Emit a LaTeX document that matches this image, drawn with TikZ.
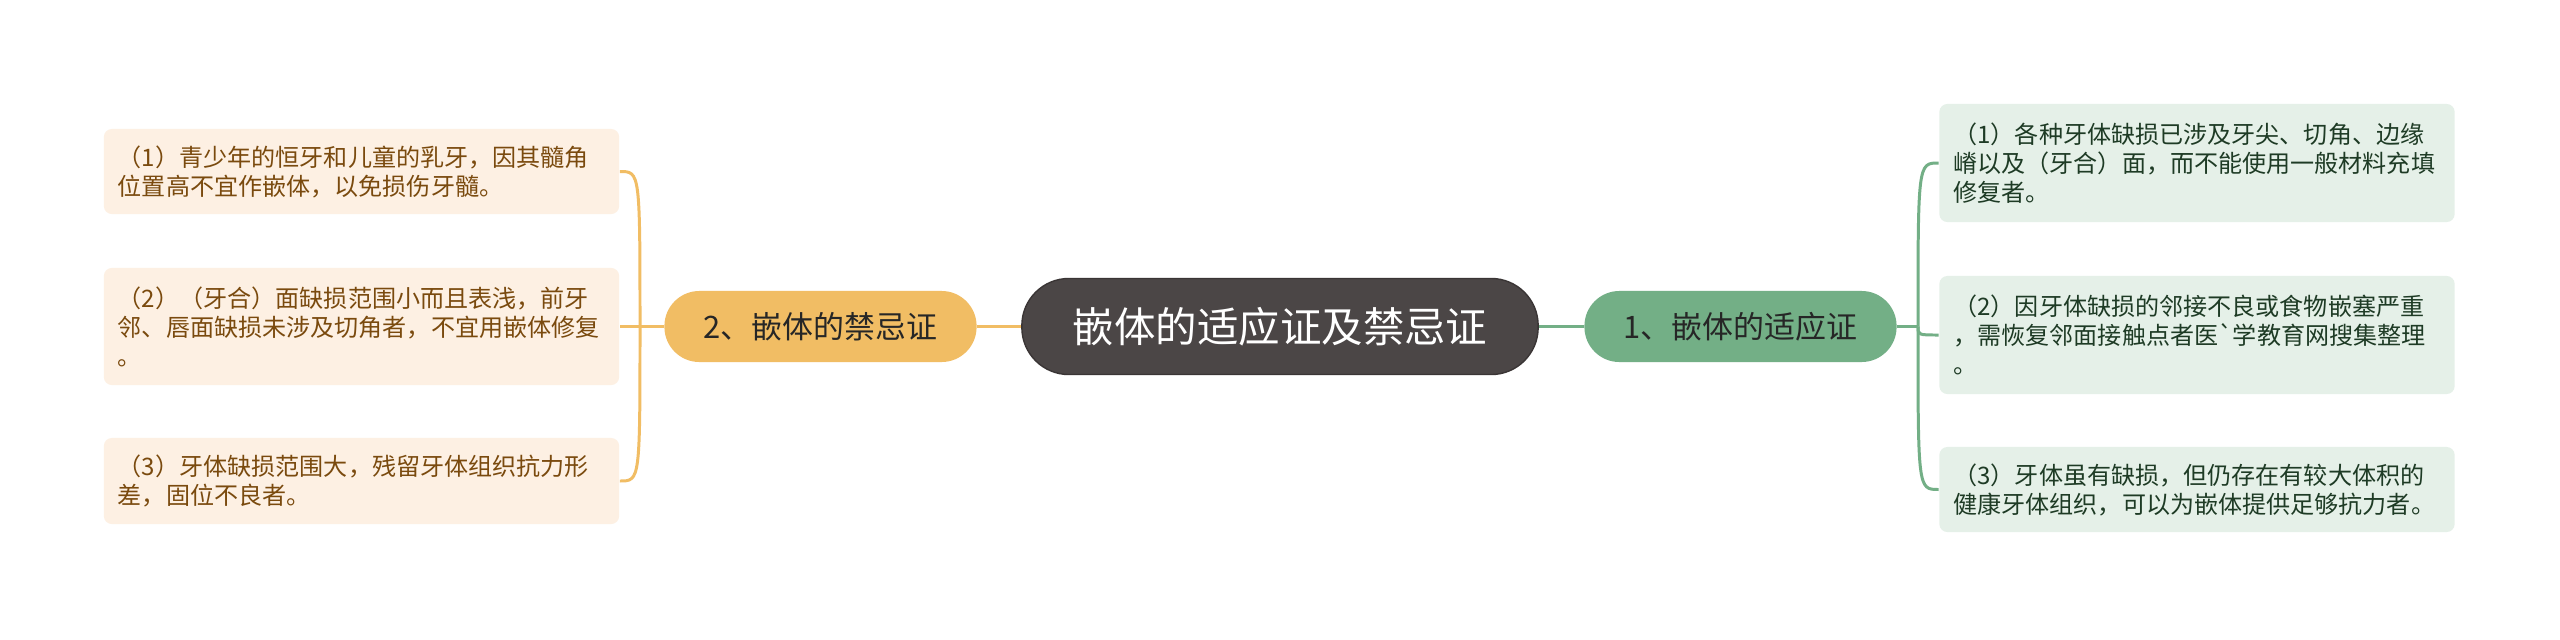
\documentclass[tikz,border=0pt]{standalone}
\usepackage{fontspec}
\setmainfont{Noto Sans CJK SC}
\usepackage{xcolor}
\usepackage{tikz}
\definecolor{rootfill}{HTML}{4B4646}
\definecolor{rootline}{HTML}{3A3535}
\definecolor{nofill}{HTML}{F1BD64}
\definecolor{nolight}{HTML}{FDF0E3}
\definecolor{notext}{HTML}{7A4A0E}
\definecolor{yesfill}{HTML}{73AF86}
\definecolor{yeslight}{HTML}{E5F0E8}
\definecolor{yestext}{HTML}{1E3B25}

\begin{document}
\begin{tikzpicture}[x=0.01cm,y=-0.01cm,
 root/.style={draw=rootline,fill=rootfill,rounded corners=0.47cm,minimum width=5.16cm,minimum height=0.96cm,inner sep=0pt,text=white,font=\fontsize{11.8pt}{14pt}\selectfont},
 branch/.style={rounded corners=0.35cm,minimum width=3.12cm,minimum height=0.71cm,inner sep=0pt,font=\fontsize{8.8pt}{10pt}\selectfont},
 leaf/.style={rounded corners=0.08cm,minimum width=5.15cm,text width=4.87cm,inner xsep=0.14cm,inner ysep=0pt,align=left,font=\fontsize{6.85pt}{8.25pt}\selectfont},
 noline/.style={draw=nofill,line width=0.85pt},
 yesline/.style={draw=yesfill,line width=0.85pt}]
 \useasboundingbox[fill=white] (0,0) rectangle (2560,639);

 \node (root) at (1280,326.5)[root]{嵌体的适应证及禁忌证};
 \node (no) at (820.5,326.5)[branch,fill=nofill,text=black!85]{2、嵌体的禁忌证};
 \node (yes) at (1740.5,326.5)[branch,fill=yesfill,text=black!85]{1、嵌体的适应证};

 % left leaves
 \node (no1) at (361.5,171.5)[leaf,fill=nolight,text=notext,minimum height=0.85cm]{（1）青少年的恒牙和儿童的乳牙，因其髓角\\位置高不宜作嵌体，以免损伤牙髓。};
 \node (no2) at (361.5,326.5)[leaf,fill=nolight,text=notext,minimum height=1.17cm]{（2）（牙合）面缺损范围小而且表浅，前牙\\邻、唇面缺损未涉及切角者，不宜用嵌体修复\\。};
 \node (no3) at (361.5,481)[leaf,fill=nolight,text=notext,minimum height=0.86cm]{（3）牙体缺损范围大，残留牙体组织抗力形\\差，固位不良者。};

 % right leaves
 \node (yes1) at (2197,163)[leaf,fill=yeslight,text=yestext,minimum height=1.18cm]{（1）各种牙体缺损已涉及牙尖、切角、边缘\\嵴以及（牙合）面，而不能使用一般材料充填\\修复者。};
 \node (yes2) at (2197,335)[leaf,fill=yeslight,text=yestext,minimum height=1.18cm]{（2）因牙体缺损的邻接不良或食物嵌塞严重\\，需恢复邻面接触点者医\textasciigrave 学教育网搜集整理\\。};
 \node (yes3) at (2197,489.5)[leaf,fill=yeslight,text=yestext,minimum height=0.85cm]{（3）牙体虽有缺损，但仍存在有较大体积的\\健康牙体组织，可以为嵌体提供足够抗力者。};

 \draw[noline] (no.east) -- (root.west);
 \draw[yesline] (root.east) -- (yes.west);

 \coordinate (nofork) at (640,326.5);
 \coordinate (yesfork) at (1918,326.5);
 \draw[noline] (no.west) -- (nofork);
 \draw[yesline] (yes.east) -- (yesfork);
 \foreach \n in {no1,no2,no3}
  \draw[noline] (nofork) .. controls (nofork |- \n.east) .. (\n.east);
 \foreach \n in {yes1,yes2,yes3}
  \draw[yesline] (yesfork) .. controls (yesfork |- \n.west) .. (\n.west);
\end{tikzpicture}
\end{document}
